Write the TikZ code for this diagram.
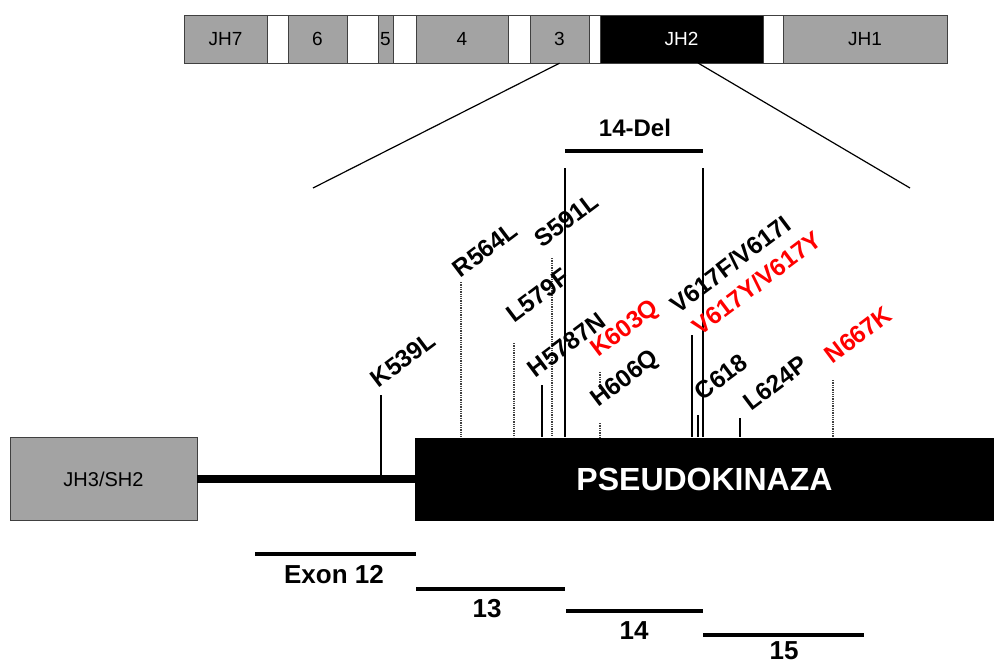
\documentclass[tikz,border=0pt]{standalone}
\usepackage{fontspec}
\setmainfont{Liberation Sans}
\tikzset{
  segbox/.style={draw=black!75, fill=black!36, minimum height=48pt, inner sep=0pt, font=\fontsize{19}{22}\selectfont},
  gapbox/.style={draw=black!75, fill=white, minimum height=48pt, inner sep=0pt},
  mutlab/.style={rotate=37, anchor=south west, inner sep=0pt, font=\bfseries\fontsize{24.5}{28}\selectfont},
  mutred/.style={mutlab, text=red},
  mline/.style={line width=1.2pt},
  mdots/.style={line width=1.3pt, densely dotted, black!75},
  exline/.style={line width=3.5pt},
  exlab/.style={font=\bfseries\fontsize{26}{30}\selectfont}
}
\begin{document}
\begin{tikzpicture}[x=1pt, y=-1pt]
	\useasboundingbox (0,0) rectangle (994,664);
	% dominii JAK2
	\node[segbox, minimum width=83pt] (jh7) at (225.5,39) {JH7};
	\node[gapbox, minimum width=21pt] (g1) at (277.5,39) {};
	\node[segbox, minimum width=59pt] (s6) at (317.5,39) {6};
	\node[gapbox, minimum width=31pt] (g2) at (362.5,39) {};
	\node[segbox, minimum width=15pt] (s5) at (385.5,39) {5};
	\node[gapbox, minimum width=23pt] (g3) at (404.5,39) {};
	\node[segbox, minimum width=92pt] (s4) at (462,39) {4};
	\node[gapbox, minimum width=22pt] (g4) at (519,39) {};
	\node[segbox, minimum width=59pt] (s3) at (559.5,39) {3};
	\node[gapbox, minimum width=11pt] (g5) at (594.5,39) {};
	\node[segbox, minimum width=163pt, fill=black, text=white] (jh2) at (681.5,39) {JH2};
	\node[gapbox, minimum width=20pt] (g6) at (773,39) {};
	\node[segbox, minimum width=164pt] (jh1) at (865,39) {JH1};
	% ingrandimento
	\coordinate (zl) at (313,188);
	\coordinate (zr) at (910,188);
	\coordinate (jh2a) at (698,63);
	\draw[line width=1.2pt] (s3.south) -- (zl);
	\draw[line width=1.2pt] (jh2a) -- (zr);
	% delezione esone 14
	\coordinate (dela) at (565,151);
	\coordinate (delb) at (703,151);
	\draw[exline] (dela) -- (delb);
	\node[font=\bfseries\fontsize{24}{28}\selectfont] (del) at (635,128) {14-Del};
	% JH3/SH2 e pseudochinasi
	\node[draw=black!75, fill=black!36, minimum width=187pt, minimum height=83pt, font=\fontsize{20}{24}\selectfont] (jh3) at (103.5,479) {JH3/SH2};
	\node[fill=black, minimum width=579pt, minimum height=83pt, text=white, font=\bfseries\fontsize{32}{36}\selectfont] (pk) at (704.5,479) {PSEUDOKINAZA};
	\draw[line width=8pt] (jh3.east) -- (pk.west);
	% linee delle mutazioni
	\coordinate (k539) at (381,395);
	\coordinate (r564) at (461,282);
	\coordinate (l579) at (514,343);
	\coordinate (h578) at (542,385);
	\coordinate (s591) at (552,258);
	\coordinate (del1) at (565,168);
	\coordinate (k603) at (600,372);
	\coordinate (k603b) at (600,390);
	\coordinate (h606) at (600,423);
	\coordinate (v617) at (692,335);
	\coordinate (c618) at (698,415);
	\coordinate (del2) at (703,168);
	\coordinate (l624) at (740,418);
	\coordinate (n667) at (833,380);
	\draw[mline] (k539) -- (k539 |- pk.west);
	\draw[mdots] (r564) -- (r564 |- pk.north);
	\draw[mdots] (l579) -- (l579 |- pk.north);
	\draw[mline] (h578) -- (h578 |- pk.north);
	\draw[mdots] (s591) -- (s591 |- pk.north);
	\draw[mline] (del1) -- (del1 |- pk.north);
	\draw[mdots] (k603) -- (k603b);
	\draw[mdots] (h606) -- (h606 |- pk.north);
	\draw[mline] (v617) -- (v617 |- pk.north);
	\draw[mline] (c618) -- (c618 |- pk.north);
	\draw[mline] (del2) -- (del2 |- pk.north);
	\draw[mline] (l624) -- (l624 |- pk.north);
	\draw[mdots] (n667) -- (n667 |- pk.north);
	% nomi delle mutazioni
	\node[mutlab] (tk539) at (379,389) {K539L};
	\node[mutlab] (tr564) at (461,279) {R564L};
	\node[mutlab] (tl579) at (515,324) {L579F};
	\node[mutlab] (ts591) at (543,249) {S591L};
	\node[mutlab] (th578) at (536,379) {H5787N};
	\node[mutred] (tk603) at (601,362) {K603Q};
	\node[mutlab] (th606) at (601,412) {H606Q};
	\node[mutlab] (tv617) at (679,315) {V617F/V617I};
	\node[mutred] (tv617y) at (701,337) {V617Y/V617Y};
	\node[mutlab] (tc618) at (703,402) {C618};
	\node[mutlab] (tl624) at (752,412) {L624P};
	\node[mutred] (tn667) at (833,365) {N667K};
	% esoni
	\coordinate (e12a) at (255,554);
	\coordinate (e12b) at (416,554);
	\coordinate (e13a) at (416,589);
	\coordinate (e13b) at (565,589);
	\coordinate (e14a) at (566,611);
	\coordinate (e14b) at (703,611);
	\coordinate (e15a) at (703,635);
	\coordinate (e15b) at (864,635);
	\draw[exline] (e12a) -- (e12b);
	\draw[exline] (e13a) -- (e13b);
	\draw[exline] (e14a) -- (e14b);
	\draw[exline] (e15a) -- (e15b);
	\node[exlab] (x12) at (334,575) {Exon 12};
	\node[exlab] (x13) at (487,609) {13};
	\node[exlab] (x14) at (634,631) {14};
	\node[exlab] (x15) at (784,651) {15};
\end{tikzpicture}
\end{document}
